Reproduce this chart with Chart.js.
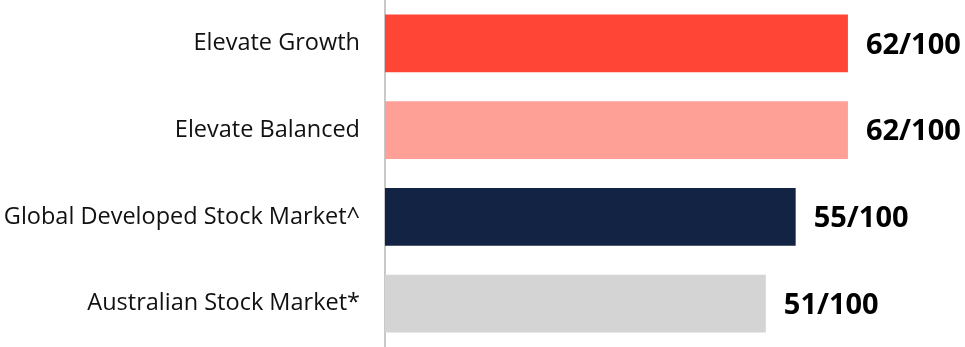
<!DOCTYPE html>
<html>
<head>
<meta charset="utf-8">
<script src="https://cdn.jsdelivr.net/npm/chart.js@4/dist/chart.umd.min.js"></script>
<style>
html,body{margin:0;padding:0;background:#fff;}
#wrap{width:965px;height:347px;position:relative;}
</style>
</head>
<body>
<div id="wrap"><canvas id="c" width="965" height="347"></canvas></div>
<script>
const categories = ["Elevate Growth", "Elevate Balanced", "Global Developed Stock Market^", "Australian Stock Market*"];
const scores = [62, 62, 55, 51];
const scoreOutOf = 100;
const barColors = ["#FF4536", "#FFA097", "#122343", "#D4D4D4"];

const valueLabels = {
  id: 'valueLabels',
  afterDatasetsDraw(chart) {
    const ctx = chart.ctx;
    const meta = chart.getDatasetMeta(0);
    ctx.save();
    ctx.font = 'bold 29px "Open Sans"';
    ctx.fillStyle = '#000';
    ctx.textAlign = 'left';
    ctx.textBaseline = 'middle';
    meta.data.forEach((bar, i) => {
      ctx.fillText(scores[i] + '/' + scoreOutOf, bar.x + 18, bar.y + 2);
    });
    ctx.restore();
  }
};

new Chart(document.getElementById('c'), {
  type: 'bar',
  data: {
    labels: categories,
    datasets: [{
      data: scores,
      backgroundColor: barColors,
      borderWidth: 0,
      categoryPercentage: 0.665,
      barPercentage: 1
    }]
  },
  options: {
    indexAxis: 'y',
    responsive: false,
    maintainAspectRatio: false,
    animation: false,
    layout: { padding: { left: 0, right: 20, top: 0, bottom: 0 } },
    plugins: { legend: { display: false }, tooltip: { enabled: false } },
    scales: {
      x: { display: false, min: 0, max: 75 },
      y: {
        afterFit(scale) { scale.width = 385; scale.paddingTop = 0; scale.paddingBottom = 0; },
        grid: { display: false, drawTicks: false },
        border: { display: true, color: '#C8C8C8', width: 2 },
        ticks: {
          padding: 25,
          color: '#111',
          font: { family: '"Open Sans"', size: 23.5 }
        }
      }
    }
  },
  plugins: [valueLabels]
});
</script>
</body>
</html>
